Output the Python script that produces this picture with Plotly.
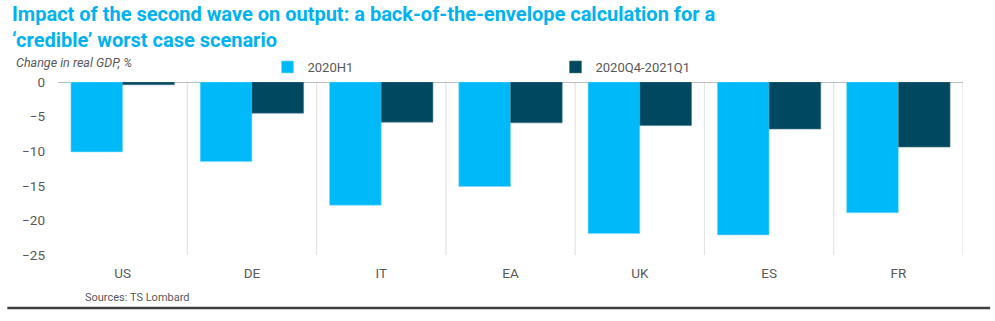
import plotly.graph_objects as go

countries = ["US", "DE", "IT", "EA", "UK", "ES", "FR"]
h1_2020 = [-10.1, -11.5, -17.8, -15.1, -21.9, -22.1, -18.9]
q4_2020_q1_2021 = [-0.4, -4.5, -5.8, -5.9, -6.3, -6.8, -9.4]
y_ticks = [0, -5, -10, -15, -20, -25]

LIGHT = "#00B9F9"
DARK = "#00485F"
GREY_TXT = "#595959"
FONT = "Roboto"

fig = go.Figure()
fig.add_trace(go.Bar(
    name="2020H1", x=countries, y=h1_2020,
    marker=dict(color=LIGHT, line=dict(color="#7FDCFF", width=0.6)),
))
fig.add_trace(go.Bar(
    name="2020Q4-2021Q1", x=countries, y=q4_2020_q1_2021,
    marker=dict(color=DARK, line=dict(color="#4F7F8F", width=0.6)),
))

# category separators
for i in range(len(countries)):
    fig.add_shape(type="line", xref="x", yref="y",
                  x0=i + 0.5, x1=i + 0.5, y0=0, y1=-25,
                  line=dict(color="#E3E3E3", width=1.2), layer="below")

fig.update_layout(
    width=995, height=321,
    margin=dict(l=58, r=32, t=82, b=66),
    paper_bgcolor="white", plot_bgcolor="white",
    barmode="group", bargap=0.2, bargroupgap=0,
    font=dict(family=FONT, color=GREY_TXT, size=13),
    showlegend=True,
    legend=dict(orientation="h", x=0.2315, xanchor="left", y=1.0, yanchor="bottom",
                entrywidth=243, entrywidthmode="pixels",
                font=dict(size=13, color=GREY_TXT), itemwidth=30,
                traceorder="normal", bgcolor="rgba(0,0,0,0)"),
    xaxis=dict(showgrid=False, showline=False, ticks="", tickfont=dict(size=13.5, color=GREY_TXT),
               range=[-0.5, 6.5], ticklabelstandoff=8),
    yaxis=dict(range=[-25, 0], tickvals=y_ticks, showgrid=False,
               zeroline=True, zerolinecolor="#BDBDBD", zerolinewidth=1.2,
               showline=False, ticks="", tickfont=dict(size=13.5, color=GREY_TXT),
               ticklabelstandoff=12),
)

fig.add_annotation(xref="paper", yref="paper", x=-0.052, y=1.47, xanchor="left", yanchor="top",
                   text="<b>Impact of the second wave on output: a back-of-the-envelope calculation for a<br>‘credible’ worst case scenario</b>",
                   align="left", showarrow=False, borderpad=0,
                   font=dict(family=FONT, size=20, color="#00B3F0"))
fig.add_annotation(xref="paper", yref="paper", x=-0.047, y=1.0, xanchor="left", yanchor="bottom",
                   yshift=11, text="<i>Change in real GDP, %</i>", showarrow=False, borderpad=0,
                   font=dict(family=FONT, size=12.5, color=GREY_TXT))
fig.add_annotation(xref="paper", yref="paper", x=0.028, y=0, xanchor="left", yanchor="top",
                   yshift=-34, text="Sources: TS Lombard", showarrow=False,
                   font=dict(family=FONT, size=11, color=GREY_TXT))
fig.add_shape(type="line", xref="paper", yref="paper", x0=-0.056, x1=1.03, y0=-0.306, y1=-0.306,
              line=dict(color="#3F3F3F", width=2.5))

fig.write_html("out.html")
